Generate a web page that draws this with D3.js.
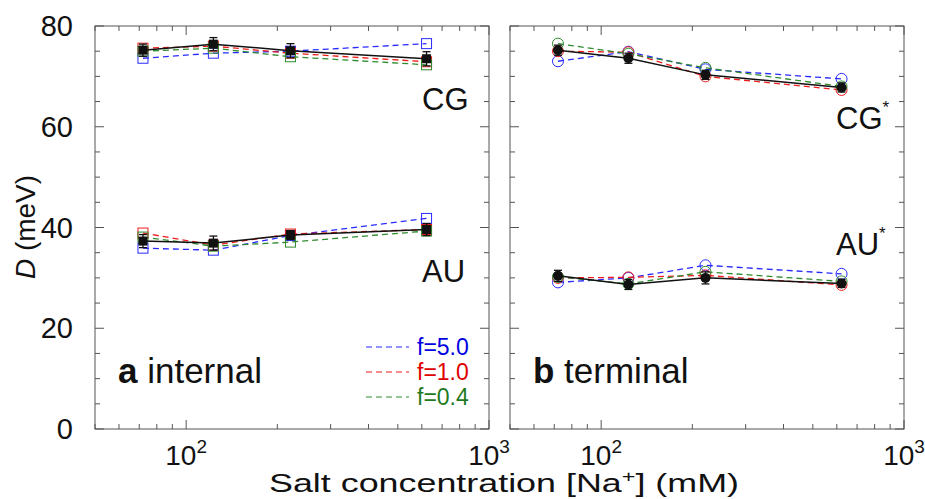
<!DOCTYPE html>
<html>
<head>
<meta charset="utf-8">
<script src="https://cdn.jsdelivr.net/npm/d3@7"></script>
<style>
  body { margin: 0; background: #fff; }
  svg text { font-family: "Liberation Sans", Arial, Helvetica, sans-serif; }
</style>
</head>
<body>
<div id="chart"></div>
<script>
// Salt concentrations (mM)
var concentrations = [72, 123, 221, 622];

// internal pairs, CG
var cgIntF50 = [73.6, 74.6, 75.0, 76.5];
var cgIntF10 = [75.6, 76.0, 74.6, 72.9];
var cgIntF04 = [75.0, 75.6, 73.9, 72.3];
var cgIntRef = [75.2, 76.4, 75.1, 73.5];
var cgIntErr = [1.2, 1.3, 1.4, 1.4];

// internal pairs, AU
var auIntF50 = [35.9, 35.5, 38.4, 41.8];
var auIntF10 = [38.9, 36.5, 38.7, 39.6];
var auIntF04 = [38.1, 36.3, 37.1, 39.3];
var auIntRef = [37.3, 36.9, 38.5, 39.6];
var auIntErr = [1.3, 1.4, 0.9, 1.2];

// terminal pairs, CG*
var cgTerF50 = [73.0, 74.9, 71.4, 69.5];
var cgTerF10 = [75.0, 74.8, 70.0, 67.3];
var cgTerF04 = [76.5, 74.5, 71.7, 68.0];
var cgTerRef = [75.2, 73.6, 70.3, 67.8];
var cgTerErr = [1.0, 1.0, 0.9, 0.9];

// terminal pairs, AU*
var auTerF50 = [29.1, 30.0, 32.5, 30.8];
var auTerF10 = [30.0, 30.1, 30.5, 28.6];
var auTerF04 = [30.2, 28.8, 31.2, 29.3];
var auTerRef = [30.4, 28.7, 30.0, 28.9];
var auTerErr = [1.1, 1.0, 1.2, 0.8];

var legendLabels = ["f=5.0", "f=1.0", "f=0.4"];
var seriesColors = ["#2a2aff", "#ee1c1c", "#2e8b2e"];
var textColors = ["#0000e0", "#e00000", "#1f7a1f"];

var yTicks = [0, 20, 40, 60, 80];
var xMajor = [100, 1000];

var width = 925, height = 499;
var panelW = 394, panelH = 403, marginTop = 26;
var panels = [
  { left: 95, marker: "square", tag: "a", name: "internal", labels: ["CG", "AU"],
    groups: [[cgIntF50, cgIntF10, cgIntF04, cgIntRef, cgIntErr],
             [auIntF50, auIntF10, auIntF04, auIntRef, auIntErr]],
    labelPos: [[327, 84], [327, 256]], yLabels: true, legend: true },
  { left: 510, marker: "circle", tag: "b", name: "terminal", labels: ["CG", "AU"],
    groups: [[cgTerF50, cgTerF10, cgTerF04, cgTerRef, cgTerErr],
             [auTerF50, auTerF10, auTerF04, auTerRef, auTerErr]],
    labelPos: [[326, 103], [326, 229]], star: true, yLabels: false, legend: false }
];

var svg = d3.select("#chart").append("svg")
  .attr("width", width).attr("height", height);

var x = d3.scaleLog().domain([50, 1000]).range([0, panelW]);
var y = d3.scaleLinear().domain([0, 80]).range([panelH, 0]);

var xMinor = [];
for (var v = 50; v <= 1000; v += (v < 100 ? 10 : 100)) xMinor.push(v);
var yMinor = d3.range(0, 81, 5);

var line = d3.line()
  .x(function(d) { return x(d[0]); })
  .y(function(d) { return y(d[1]); });

panels.forEach(function(p) {
  var g = svg.append("g").attr("transform", "translate(" + p.left + "," + marginTop + ")");
  var axisColor = "#555";

  // frame
  g.append("rect").attr("width", panelW).attr("height", panelH)
    .attr("fill", "none").attr("stroke", axisColor).attr("stroke-width", 1);

  // x ticks (bottom and top, inside)
  xMinor.forEach(function(t) {
    var len = xMajor.indexOf(t) >= 0 ? 9 : 5;
    g.append("line").attr("x1", x(t)).attr("x2", x(t))
      .attr("y1", panelH).attr("y2", panelH - len).attr("stroke", axisColor);
    g.append("line").attr("x1", x(t)).attr("x2", x(t))
      .attr("y1", 0).attr("y2", len).attr("stroke", axisColor);
  });
  // y ticks (left and right, inside)
  yMinor.forEach(function(t) {
    var len = t % 20 === 0 ? 9 : 5;
    g.append("line").attr("x1", 0).attr("x2", len)
      .attr("y1", y(t)).attr("y2", y(t)).attr("stroke", axisColor);
    g.append("line").attr("x1", panelW).attr("x2", panelW - len)
      .attr("y1", y(t)).attr("y2", y(t)).attr("stroke", axisColor);
  });

  // x tick labels
  xMajor.forEach(function(t) {
    var txt = g.append("text").attr("x", x(t)).attr("y", panelH + 36)
      .attr("text-anchor", "middle").attr("font-size", 28).attr("fill", "#111");
    txt.append("tspan").text("10");
    txt.append("tspan").attr("dy", -12).attr("font-size", 19).text(Math.log10(t));
  });

  // y tick labels
  if (p.yLabels) {
    yTicks.forEach(function(t) {
      g.append("text").attr("x", -22).attr("y", y(t) + 10)
        .attr("text-anchor", "end").attr("font-size", 29).attr("fill", "#111")
        .text(t);
    });
  }

  // data
  p.groups.forEach(function(grp, gi) {
    for (var s = 0; s < 3; s++) {
      var pts = concentrations.map(function(c, i) { return [c, grp[s][i]]; });
      g.append("path").datum(pts).attr("d", line)
        .attr("fill", "none").attr("stroke", seriesColors[s])
        .attr("stroke-width", 1.3).attr("stroke-dasharray", "6,4");
    }
    for (var s2 = 0; s2 < 3; s2++) {
      var pts2 = concentrations.map(function(c, i) { return [c, grp[s2][i]]; });
      if (p.marker === "square") {
        g.selectAll(null).data(pts2).enter().append("rect")
          .attr("x", function(d) { return x(d[0]) - 5; })
          .attr("y", function(d) { return y(d[1]) - 5; })
          .attr("width", 10).attr("height", 10)
          .attr("fill", "none").attr("stroke", seriesColors[s2]).attr("stroke-width", 1);
      } else {
        g.selectAll(null).data(pts2).enter().append("circle")
          .attr("cx", function(d) { return x(d[0]); })
          .attr("cy", function(d) { return y(d[1]); })
          .attr("r", 5.5)
          .attr("fill", "none").attr("stroke", seriesColors[s2]).attr("stroke-width", 1);
      }
    }
    var ref = concentrations.map(function(c, i) { return [c, grp[3][i], grp[4][i]]; });
    g.append("path").datum(ref).attr("d", line)
      .attr("fill", "none").attr("stroke", "#111").attr("stroke-width", 1.5);
    // error bars
    ref.forEach(function(d) {
      var cx = x(d[0]);
      g.append("line").attr("x1", cx).attr("x2", cx)
        .attr("y1", y(d[1] - d[2])).attr("y2", y(d[1] + d[2]))
        .attr("stroke", "#111").attr("stroke-width", 1.3);
      [d[1] - d[2], d[1] + d[2]].forEach(function(e) {
        g.append("line").attr("x1", cx - 4).attr("x2", cx + 4)
          .attr("y1", y(e)).attr("y2", y(e))
          .attr("stroke", "#111").attr("stroke-width", 1.3);
      });
    });
    if (p.marker === "square") {
      g.selectAll(null).data(ref).enter().append("rect")
        .attr("x", function(d) { return x(d[0]) - 4.5; })
        .attr("y", function(d) { return y(d[1]) - 4.5; })
        .attr("width", 9).attr("height", 9).attr("fill", "#111");
    } else {
      g.selectAll(null).data(ref).enter().append("circle")
        .attr("cx", function(d) { return x(d[0]); })
        .attr("cy", function(d) { return y(d[1]); })
        .attr("r", 5).attr("fill", "#111");
    }

    // pair label
    var lt = g.append("text").attr("x", p.labelPos[gi][0]).attr("y", p.labelPos[gi][1])
      .attr("font-size", 31).attr("fill", "#111");
    lt.append("tspan").text(p.labels[gi]);
    if (p.star) lt.append("tspan").attr("dy", -16).attr("font-size", 17).text("*");
  });

  // panel label
  var pl = g.append("text").attr("x", 23).attr("y", 357)
    .attr("font-size", 35).attr("fill", "#111");
  pl.append("tspan").attr("font-weight", "bold").text(p.tag);
  pl.append("tspan").text(" " + p.name);

  // legend
  if (p.legend) {
    legendLabels.forEach(function(lab, i) {
      var ly = 321 + i * 25;
      g.append("line").attr("x1", 271).attr("x2", 314)
        .attr("y1", ly).attr("y2", ly)
        .attr("stroke", seriesColors[i]).attr("stroke-width", 1.2)
        .attr("stroke-dasharray", "6,4");
      g.append("text").attr("x", 322).attr("y", ly + 8)
        .attr("font-size", 23).attr("fill", textColors[i]).text(lab);
    });
  }
});

// y axis title
var yt = svg.append("text")
  .attr("transform", "translate(35," + (marginTop + 201) + ") rotate(-90)")
  .attr("text-anchor", "middle").attr("font-size", 28).attr("fill", "#111");
yt.append("tspan").attr("font-style", "italic").text("D");
yt.append("tspan").text(" (meV)");

// x axis title
var xt = svg.append("text").attr("x", 504).attr("y", 492)
  .attr("text-anchor", "middle").attr("font-size", 26).attr("fill", "#111")
  .attr("textLength", 470).attr("lengthAdjust", "spacingAndGlyphs");
xt.append("tspan").text("Salt concentration [Na");
xt.append("tspan").attr("dy", -10).attr("font-size", 17).text("+");
xt.append("tspan").attr("dy", 10).text("] (mM)");
</script>
</body>
</html>
